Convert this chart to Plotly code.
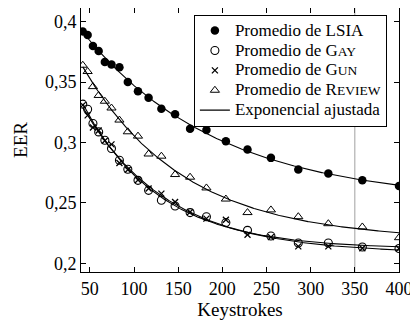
import numpy as np
import plotly.graph_objects as go

# ---- data ----
keystrokes = [42, 47.5, 53.5, 60, 67, 74.5, 83.5, 93, 104.5, 116.5, 131,
              146.5, 163.5, 182, 204, 228.5, 255, 286, 320, 358.5, 400]

eer_lsia = [0.392, 0.389, 0.380, 0.3757, 0.3666, 0.3647, 0.3624, 0.3502, 0.3425,
            0.3370, 0.3280, 0.3234, 0.3115, 0.3104, 0.3010, 0.2942, 0.2873,
            0.2776, 0.2743, 0.2687, 0.2640]

eer_gay = [0.3318, 0.3276, 0.3158, 0.3088, 0.3019, 0.2950, 0.2853, 0.2779, 0.2687,
           0.2604, 0.2522, 0.2474, 0.2420, 0.2386, 0.2337, 0.2273, 0.2226,
           0.2168, 0.2168, 0.2135, 0.2122]

eer_gun = [0.3310, 0.3225, 0.3125, 0.3100, 0.3015, 0.2985, 0.2830, 0.2775, 0.2690,
           0.2620, 0.2577, 0.2507, 0.2425, 0.2370, 0.2360, 0.2237, 0.2217,
           0.2140, 0.2140, 0.2125, 0.2122]

eer_review = [0.3640, 0.3588, 0.3463, 0.3390, 0.3342, 0.3286, 0.3186, 0.3089, 0.3053,
              0.2905, 0.2887, 0.2735, 0.2713, 0.2624, 0.2532, 0.2420, 0.2442,
              0.2386, 0.2328, 0.2301, 0.2212]

x_ticks = [50, 100, 150, 200, 250, 300, 350, 400]
y_ticks = [0.2, 0.25, 0.3, 0.35, 0.4]
y_tick_labels = ["0,2", "0,25", "0,3", "0,35", "0,4"]


def big(t):
    return "<span style='font-size:17px'>" + t + "</span>"


def small_caps(t):
    return "<span style='font-size:13.5px'>" + t + "</span>"


names = [big("Promedio de LSIA"),
         big("Promedio de G") + small_caps("AY"),
         big("Promedio de G") + small_caps("UN"),
         big("Promedio de R") + small_caps("EVIEW"),
         big("Exponencial ajustada")]

FONT = "'Liberation Serif', 'DejaVu Serif', serif"


def fit_exponential(x, y):
    """Least-squares fit of y = a*exp(-b*x) + c (grid search over b)."""
    x = np.asarray(x, float)
    y = np.asarray(y, float)
    best = None
    for b in np.linspace(0.0005, 0.05, 4000):
        A = np.column_stack([np.exp(-b * x), np.ones_like(x)])
        coef, *_ = np.linalg.lstsq(A, y, rcond=None)
        sse = float(np.sum((A @ coef - y) ** 2))
        if best is None or sse < best[0]:
            best = (sse, b, coef)
    _, b, (a, c) = best
    return lambda t: a * np.exp(-b * t) + c


fig = go.Figure()

x_fit = np.linspace(min(keystrokes), max(keystrokes), 300)
series = [eer_lsia, eer_gay, eer_gun, eer_review]
for i, ys in enumerate(series):
    f = fit_exponential(keystrokes, ys)
    fig.add_trace(go.Scatter(x=x_fit, y=f(x_fit), mode="lines",
                             line=dict(color="black", width=1.1),
                             name=names[4], showlegend=(i == 0),
                             legendrank=5, hoverinfo="skip"))

fig.add_trace(go.Scatter(x=keystrokes, y=eer_lsia, mode="markers", name=names[0],
                         legendrank=1,
                         marker=dict(symbol="circle", size=8.5, color="black")))
fig.add_trace(go.Scatter(x=keystrokes, y=eer_gay, mode="markers", name=names[1],
                         legendrank=2,
                         marker=dict(symbol="circle-open", size=8, color="black",
                                     line=dict(width=1.1, color="black"))))
fig.add_trace(go.Scatter(x=keystrokes, y=eer_gun, mode="markers", name=names[2],
                         legendrank=3,
                         marker=dict(symbol="x-thin", size=6, color="black",
                                     line=dict(width=1.3, color="black"))))
fig.add_trace(go.Scatter(x=keystrokes, y=eer_review, mode="markers", name=names[3],
                         legendrank=4,
                         marker=dict(symbol="triangle-up-open", size=8, color="black",
                                     line=dict(width=1.0, color="black"))))

fig.add_shape(type="line", xref="x", yref="paper", x0=350, x1=350, y0=0, y1=1,
              line=dict(color="#a0a0a0", width=1), layer="below")

axis_common = dict(showline=True, linecolor="black", linewidth=1, mirror="allticks",
                   ticks="inside", ticklen=5, tickcolor="black", tickwidth=1,
                   showgrid=False, zeroline=False,
                   tickfont=dict(family=FONT, size=18, color="black"))

fig.update_xaxes(range=[40, 400], tickvals=x_ticks,
                 title=dict(text="Keystrokes", font=dict(family=FONT, size=19, color="black"),
                            standoff=2),
                 **axis_common)
fig.update_yaxes(range=[0.1928, 0.4114], tickvals=y_ticks, ticktext=y_tick_labels,
                 title=dict(text="EER", font=dict(family=FONT, size=19, color="black"),
                            standoff=12),
                 **axis_common)

# page body has an 8px margin, so the figure is sized/placed to compensate
fig.update_layout(
    width=410, height=318,
    margin=dict(l=73, r=19, t=0, b=54),
    plot_bgcolor="white", paper_bgcolor="white",
    font=dict(family=FONT, color="black"),
    legend=dict(x=0.355, y=0.975, xanchor="left", yanchor="top",
                bgcolor="white", bordercolor="black", borderwidth=1,
                font=dict(family=FONT, size=13, color="black"),
                traceorder="normal", itemwidth=30),
    showlegend=True,
)

fig.write_html("out.html")
